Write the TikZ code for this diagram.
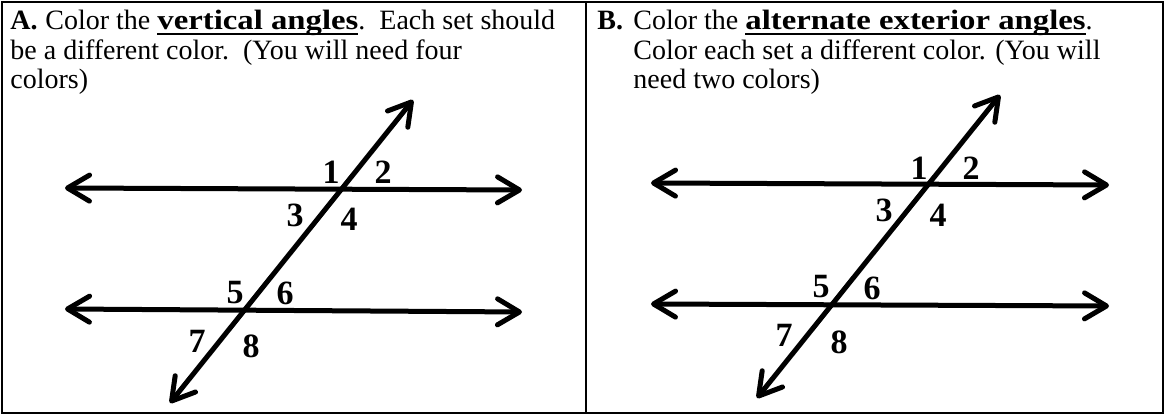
\documentclass[tikz,border=0pt]{standalone}
\usepackage{fontspec}
\setmainfont{Liberation Serif}
\usetikzlibrary{arrows.meta,positioning}

% bold, underlined key words
\newcommand{\keyword}[1]{%
  \setbox0\hbox{\addfontfeatures{FakeStretch=1.17}\bfseries #1}%
  \rlap{\rule[-2.6pt]{\wd0}{1pt}}\box0}

\begin{document}
\begin{tikzpicture}[
  x=0.5pt, y=-0.5pt,
  ray/.style={<->, line width=2.5pt},
  task/.style={anchor=base west, inner sep=0pt, font=\fontsize{14}{15.5}\selectfont},
  angle num/.style={inner sep=0pt, font=\fontsize{17}{17}\selectfont\bfseries},
  >={Straight Barb[length=11pt, width=13pt, round]}
]
  \useasboundingbox (0,0) rectangle (1165,415);

  % frame of the two panels
  \draw[line width=1pt] (2,2) rectangle (1163,413);
  \coordinate (midtop) at (586,2);
  \coordinate (midbot) at (586,413);
  \draw[line width=1.2pt] (midtop) -- (midbot);

  % panel A text
  \node[task, font=\fontsize{14}{15.5}\selectfont\bfseries] (alabel) at (10,30) {A.};
  \node[task] (aline1) at (45,30) {Color the \keyword{vertical angles}.\ \ Each set should};
  \node[task] (aline2) at (10,60) {be a different color.\ \ (You will need four};
  \node[task] (aline3) at (10,89) {colors)};

  % panel B text
  \node[task, font=\fontsize{14}{15.5}\selectfont\bfseries] (blabel) at (597,30) {B.};
  \node[task] (bline1) at (633,30) {Color the \keyword{alternate exterior angles}.};
  \node[task] (bline2) at (633,60) {Color each set a different color. (You will};
  \node[task] (bline3) at (633,89) {need two colors)};

  % panel A lines
  \coordinate (aL1) at (65,188);
  \coordinate (aR1) at (522,190);
  \coordinate (aL2) at (65,309);
  \coordinate (aR2) at (522,312);
  \coordinate (aB) at (170,403);
  \coordinate (aT) at (413,100);
  \draw[ray] (aL1) -- (aR1);
  \draw[ray] (aL2) -- (aR2);
  \draw[ray] (aB) -- (aT);

  % panel B lines
  \coordinate (bL1) at (651,183);
  \coordinate (bR1) at (1109,185);
  \coordinate (bL2) at (651,304);
  \coordinate (bR2) at (1109,306);
  \coordinate (bB) at (757,398);
  \coordinate (bT) at (1000,95);
  \draw[ray] (bL1) -- (bR1);
  \draw[ray] (bL2) -- (bR2);
  \draw[ray] (bB) -- (bT);

  % angle numbers A
  \node[angle num] (a1) at (331,172) {1};
  \node[angle num] (a2) at (383,172) {2};
  \node[angle num] (a3) at (295,215) {3};
  \node[angle num] (a4) at (349,219) {4};
  \node[angle num] (a5) at (235,293) {5};
  \node[angle num] (a6) at (285,293) {6};
  \node[angle num] (a7) at (197,341) {7};
  \node[angle num] (a8) at (251,346) {8};

  % angle numbers B
  \node[angle num] (b1) at (919,168) {1};
  \node[angle num] (b2) at (971,168) {2};
  \node[angle num] (b3) at (884,210) {3};
  \node[angle num] (b4) at (938,215) {4};
  \node[angle num] (b5) at (821,287) {5};
  \node[angle num] (b6) at (872,288) {6};
  \node[angle num] (b7) at (784,335) {7};
  \node[angle num] (b8) at (839,342) {8};
\end{tikzpicture}
\end{document}
